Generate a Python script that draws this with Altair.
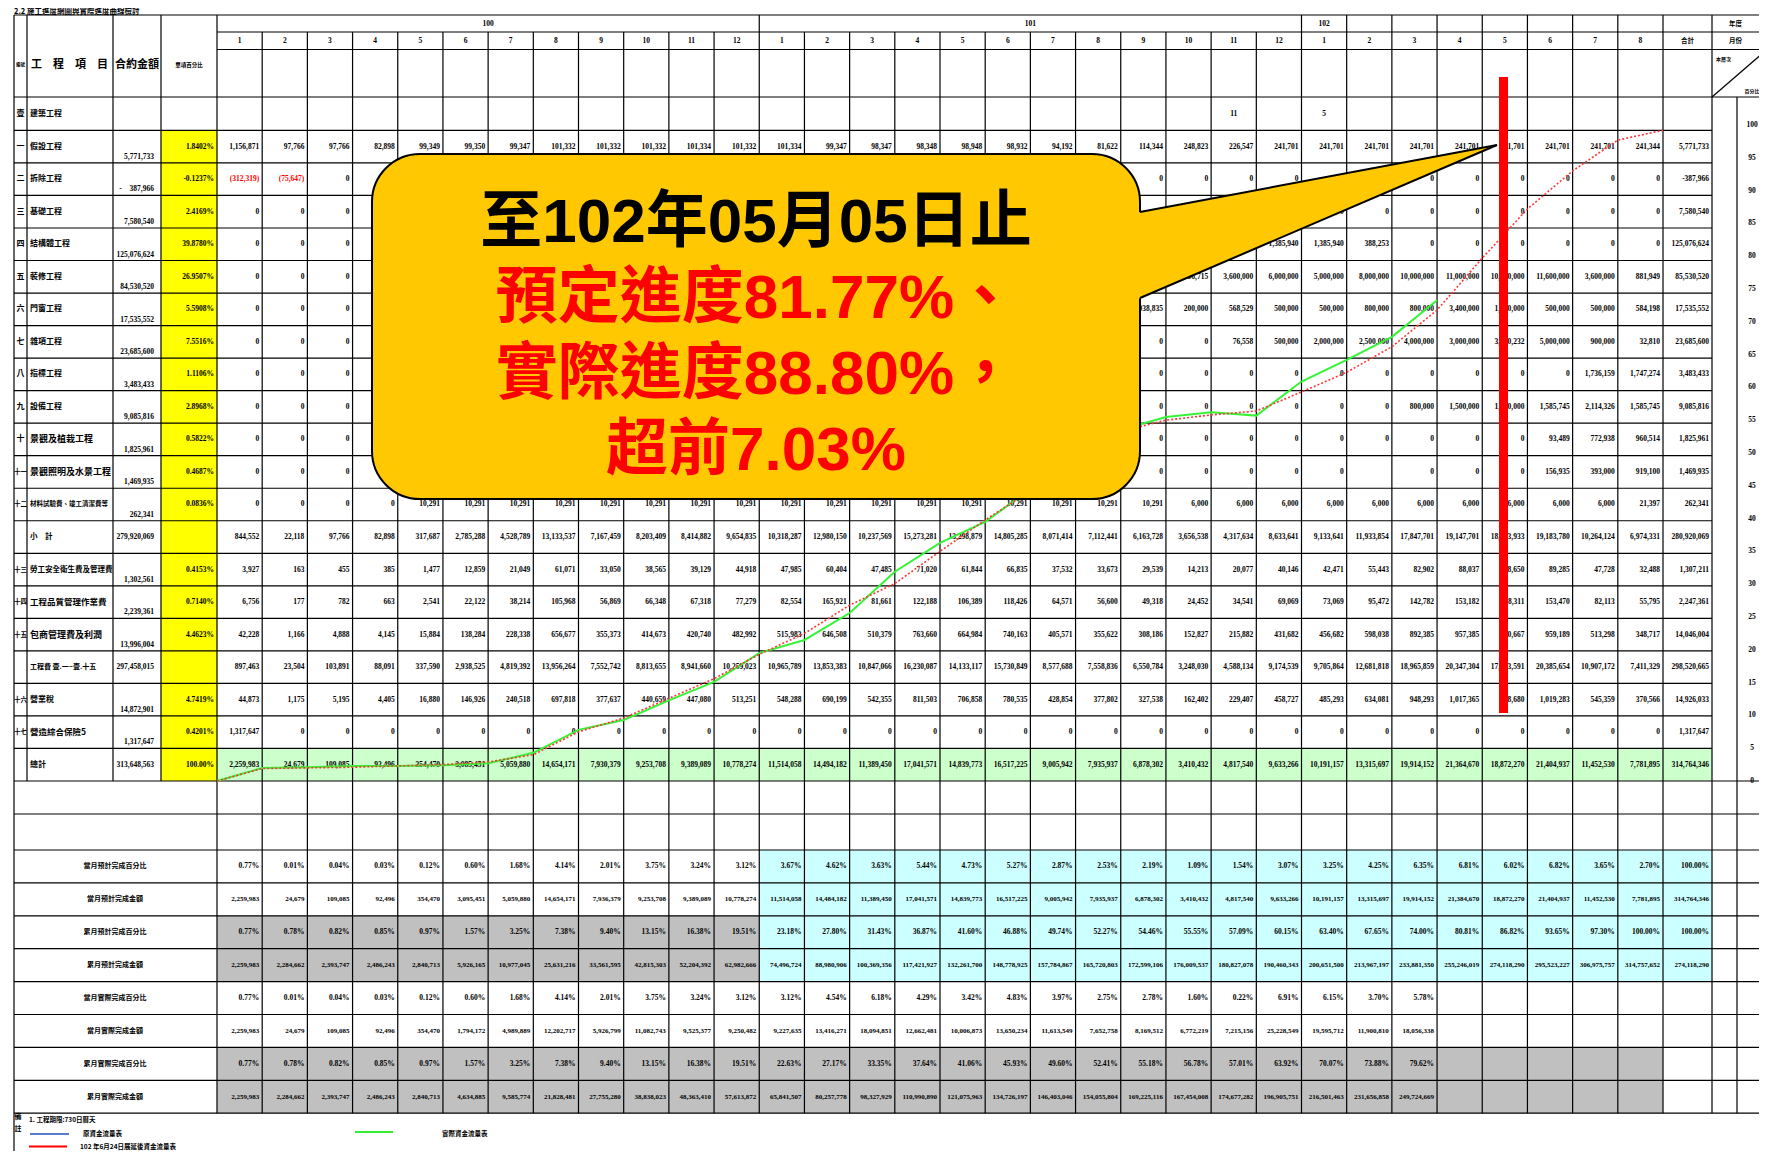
import altair as alt
import pandas as pd

# ============================ DATA ============================
TITLE = "2.2 施工進度網圖與實際進度曲線檢討"
YEAR_LABELS = ["100", "101", "102"]
MONTH_LABELS = [str(m) for m in range(1, 13)] * 2 + [str(m) for m in range(1, 9)]

ITEM_NO = ["一", "二", "三", "四", "五", "六", "七", "八", "九", "十", "十一", "十二", "",
           "十三", "十四", "十五", "", "十六", "十七", ""]
ITEM_NAME = ["假設工程", "拆除工程", "基礎工程", "結構體工程", "裝修工程", "門窗工程", "雜項工程",
             "指標工程", "設備工程", "景觀及植栽工程", "景觀照明及水景工程", "材料試驗費、竣工清潔費等",
             "小　計", "勞工安全衛生費及管理費", "工程品質管理作業費", "包商管理費及利潤",
             "工程費 壹.一~壹.十五", "營業稅", "營造綜合保險5", "總計"]
CONTRACT = ["5,771,733", "-　387,966", "7,580,540", "125,076,624", "84,530,520", "17,535,552",
            "23,685,600", "3,483,433", "9,085,816", "1,825,961", "1,469,935", "262,341",
            "279,920,069", "1,302,561", "2,239,361", "13,996,004", "297,458,015", "14,872,901",
            "1,317,647", "313,648,563"]
SHARE = ["1.8402%", "-0.1237%", "2.4169%", "39.8780%", "26.9507%", "5.5908%", "7.5516%",
         "1.1106%", "2.8968%", "0.5822%", "0.4687%", "0.0836%", "", "0.4153%", "0.7140%",
         "4.4623%", "", "4.7419%", "0.4201%", "100.00%"]

E = ""  # cell hidden under the call-out
R01 = ["1,156,871", "97,766", "97,766", "82,898", "99,349", "99,350", "99,347", "101,332", "101,332",
       "101,332", "101,334", "101,332", "101,334", "99,347", "98,347", "98,348", "98,948", "98,932",
       "94,192", "81,622", "114,344", "248,823", "226,547", "241,701", "241,701", "241,701",
       "241,701", "241,701", "241,701", "241,701", "241,701", "241,344", "5,771,733"]
R02 = ["(312,319)", "(75,647)", "0"] + [E] * 17 + ["0"] * 12 + ["-387,966"]
R03 = ["0", "0", "0"] + [E] * 17 + ["0"] * 12 + ["7,580,540"]
R04 = ["0", "0", "0"] + [E] * 17 + ["1,385,940", "1,385,940", "1,385,940", "1,385,940",
                                    "1,385,940", "388,253", "0", "0", "0", "0", "0", "0",
                                    "125,076,624"]
R05 = ["0", "0", "0"] + [E] * 17 + ["2,000,000", "2,386,715", "3,600,000", "6,000,000",
                                    "5,000,000", "8,000,000", "10,000,000", "11,000,000",
                                    "10,800,000", "11,600,000", "3,600,000", "881,949",
                                    "85,530,520"]
R06 = ["0", "0", "0"] + [E] * 17 + ["1,038,835", "200,000", "568,529", "500,000", "500,000",
                                    "800,000", "800,000", "3,400,000", "1,200,000", "500,000",
                                    "500,000", "584,198", "17,535,552"]
R07 = ["0", "0", "0"] + [E] * 17 + ["0", "0", "76,558", "500,000", "2,000,000", "2,500,000",
                                    "4,000,000", "3,000,000", "3,300,232", "5,000,000",
                                    "900,000", "32,810", "23,685,600"]
R08 = ["0", "0", "0"] + [E] * 17 + ["0"] * 10 + ["1,736,159", "1,747,274", "3,483,433"]
R09 = ["0", "0", "0"] + [E] * 17 + ["0", "0", "0", "0", "0", "0", "800,000", "1,500,000",
                                    "1,500,000", "1,585,745", "2,114,326", "1,585,745",
                                    "9,085,816"]
R10 = ["0", "0", "0"] + [E] * 17 + ["0"] * 9 + ["93,489", "772,938", "960,514", "1,825,961"]
R11 = ["0", "0", "0"] + [E] * 17 + ["0", "0", "0", "0", "0", "", "0", "0", "0",
                                    "156,935", "393,000", "919,100", "1,469,935"]
R12 = ["0", "0", "0", "0"] + ["10,291"] * 17 + ["6,000"] * 10 + ["21,397", "262,341"]
R13 = ["844,552", "22,118", "97,766", "82,898", "317,687", "2,785,288", "4,528,789", "13,133,537",
       "7,167,459", "8,203,409", "8,414,882", "9,654,835", "10,318,287", "12,980,150",
       "10,237,569", "15,273,281", "13,298,879", "14,805,285", "8,071,414", "7,112,441",
       "6,163,728", "3,656,538", "4,317,634", "8,633,641", "9,133,641", "11,933,854",
       "17,847,701", "19,147,701", "18,963,933", "19,183,780", "10,264,124", "6,974,331",
       "280,920,069"]
R14 = ["3,927", "163", "455", "385", "1,477", "12,859", "21,049", "61,071", "33,050", "38,565",
       "39,129", "44,918", "47,985", "60,404", "47,485", "71,020", "61,844", "66,835", "37,532",
       "33,673", "29,539", "14,213", "20,077", "40,146", "42,471", "55,443", "82,902", "88,037",
       "78,650", "89,285", "47,728", "32,488", "1,307,211"]
R15 = ["6,756", "177", "782", "663", "2,541", "22,122", "38,214", "105,968", "56,869", "66,348",
       "67,318", "77,279", "82,554", "165,921", "81,661", "122,188", "106,389", "118,426",
       "64,571", "56,600", "49,318", "24,452", "34,541", "69,069", "73,069", "95,472", "142,782",
       "153,182", "138,311", "153,470", "82,113", "55,795", "2,247,361"]
R16 = ["42,228", "1,166", "4,888", "4,145", "15,884", "138,284", "228,338", "656,677", "355,373",
       "414,673", "420,740", "482,992", "515,983", "646,508", "510,379", "763,660", "664,984",
       "740,163", "405,571", "355,622", "308,186", "152,827", "215,882", "431,682", "456,682",
       "598,038", "892,385", "957,385", "860,667", "959,189", "513,298", "348,717", "14,046,004"]
R17 = ["897,463", "23,504", "103,891", "88,091", "337,590", "2,938,525", "4,819,392",
       "13,956,264", "7,552,742", "8,813,655", "8,941,660", "10,259,023", "10,965,789",
       "13,853,383", "10,847,066", "16,230,087", "14,133,117", "15,730,849", "8,577,688",
       "7,558,836", "6,550,784", "3,248,030", "4,588,134", "9,174,539", "9,705,864",
       "12,681,818", "18,965,859", "20,347,304", "17,973,591", "20,385,654", "10,907,172",
       "7,411,329", "298,520,665"]
R18 = ["44,873", "1,175", "5,195", "4,405", "16,880", "146,926", "240,518", "697,818", "377,637",
       "440,659", "447,080", "513,251", "548,288", "690,199", "542,355", "811,503", "706,858",
       "780,535", "428,854", "377,802", "327,538", "162,402", "229,407", "458,727", "485,293",
       "634,081", "948,293", "1,017,365", "898,680", "1,019,283", "545,359", "370,566",
       "14,926,033"]
R19 = ["1,317,647"] + ["0"] * 31 + ["1,317,647"]
R20 = ["2,259,983", "24,679", "109,085", "92,496", "354,470", "3,085,451", "5,059,880",
       "14,654,171", "7,930,379", "9,253,708", "9,389,089", "10,778,274", "11,514,058",
       "14,494,182", "11,389,450", "17,041,571", "14,839,773", "16,517,225", "9,005,942",
       "7,935,937", "6,878,302", "3,410,432", "4,817,540", "9,633,266", "10,191,157",
       "13,315,697", "19,914,152", "21,364,670", "18,872,270", "21,404,937", "11,452,530",
       "7,781,895", "314,764,346"]
MONTHLY = [R01, R02, R03, R04, R05, R06, R07, R08, R09, R10, R11, R12, R13, R14, R15, R16,
           R17, R18, R19, R20]

LOW_LABELS = ["當月預計完成百分比", "當月預計完成金額", "累月預計完成百分比", "累月預計完成金額",
              "當月實際完成百分比", "當月實際完成金額", "累月實際完成百分比", "累月實際完成金額"]
PLAN_PCT = ["0.77%", "0.01%", "0.04%", "0.03%", "0.12%", "0.60%", "1.68%", "4.14%", "2.01%",
            "3.75%", "3.24%", "3.12%", "3.67%", "4.62%", "3.63%", "5.44%", "4.73%", "5.27%",
            "2.87%", "2.53%", "2.19%", "1.09%", "1.54%", "3.07%", "3.25%", "4.25%", "6.35%",
            "6.81%", "6.02%", "6.82%", "3.65%", "2.70%", "100.00%"]
PLAN_AMT = ["2,259,983", "24,679", "109,085", "92,496", "354,470", "3,095,451", "5,059,880",
            "14,654,171", "7,936,379", "9,253,708", "9,389,089", "10,778,274", "11,514,058",
            "14,484,182", "11,389,450", "17,041,571", "14,839,773", "16,517,225", "9,005,942",
            "7,935,937", "6,878,302", "3,410,432", "4,817,540", "9,633,266", "10,191,157",
            "13,315,697", "19,914,152", "21,384,670", "18,872,270", "21,404,937", "11,452,530",
            "7,781,895", "314,764,346"]
PLAN_CUM_PCT = ["0.77%", "0.78%", "0.82%", "0.85%", "0.97%", "1.57%", "3.25%", "7.38%", "9.40%",
                "13.15%", "16.38%", "19.51%", "23.18%", "27.80%", "31.43%", "36.87%", "41.60%",
                "46.88%", "49.74%", "52.27%", "54.46%", "55.55%", "57.09%", "60.15%", "63.40%",
                "67.65%", "74.00%", "80.81%", "86.82%", "93.65%", "97.30%", "100.00%", "100.00%"]
PLAN_CUM_AMT = ["2,259,983", "2,284,662", "2,393,747", "2,486,243", "2,840,713", "5,926,165",
                "10,977,045", "25,631,216", "33,561,595", "42,815,303", "52,204,392",
                "62,982,666", "74,496,724", "88,980,906", "100,369,356", "117,421,927",
                "132,261,700", "148,778,925", "157,784,867", "165,720,803", "172,599,106",
                "176,009,537", "180,827,078", "190,460,343", "200,651,500", "213,967,197",
                "233,881,350", "255,246,019", "274,118,290", "295,523,227", "306,975,757",
                "314,757,652", "274,118,290"]
ACT_PCT = ["0.77%", "0.01%", "0.04%", "0.03%", "0.12%", "0.60%", "1.68%", "4.14%", "2.01%",
           "3.75%", "3.24%", "3.12%", "3.12%", "4.54%", "6.18%", "4.29%", "3.42%", "4.83%",
           "3.97%", "2.75%", "2.78%", "1.60%", "0.22%", "6.91%", "6.15%", "3.70%", "5.78%"]
ACT_AMT = ["2,259,983", "24,679", "109,085", "92,496", "354,470", "1,794,172", "4,989,889",
           "12,202,717", "5,926,799", "11,082,743", "9,525,377", "9,250,482", "9,227,635",
           "13,416,271", "18,094,851", "12,662,481", "10,006,873", "13,650,234", "11,613,549",
           "7,652,758", "8,169,512", "6,772,219", "7,215,156", "25,228,549", "19,595,712",
           "11,900,810", "18,056,338"]
ACT_CUM_PCT = ["0.77%", "0.78%", "0.82%", "0.85%", "0.97%", "1.57%", "3.25%", "7.38%", "9.40%",
               "13.15%", "16.38%", "19.51%", "22.63%", "27.17%", "33.35%", "37.64%", "41.06%",
               "45.93%", "49.60%", "52.41%", "55.18%", "56.78%", "57.01%", "63.92%", "70.07%",
               "73.88%", "79.62%"]
ACT_CUM_AMT = ["2,259,983", "2,284,662", "2,393,747", "2,486,243", "2,840,713", "4,634,885",
               "9,585,774", "21,828,481", "27,755,280", "38,838,023", "48,363,410", "57,613,872",
               "65,841,507", "80,257,778", "98,327,929", "110,990,890", "121,075,963",
               "134,726,197", "146,403,046", "154,055,804", "169,225,116", "167,454,008",
               "174,677,282", "196,905,751", "216,501,463", "231,656,858", "249,724,669"]
LOWER = [PLAN_PCT, PLAN_AMT, PLAN_CUM_PCT, PLAN_CUM_AMT, ACT_PCT, ACT_AMT, ACT_CUM_PCT,
         ACT_CUM_AMT]

# S-curves (value at the end of each month, 0 = start)
CURVE_MONTH = list(range(0, 33))
ACTUAL_CURVE = [0, 2.0, 2.1, 2.3, 2.3, 2.4, 2.7, 4.3, 7.8, 9.3, 12.3, 15.1, 19.5, 21.5, 25.6,
                31.9, 36.3, 39.5, 44.5, 49.0, 53.5, 55.5, 56.2, 55.7, 60.9, 64.2, 67.7, 73.3]
REVISED_CURVE = [0, 1.9, 2.0, 2.1, 2.3, 2.5, 2.9, 4.0, 7.5, 9.6, 12.6, 15.6, 19.3, 22.5, 26.8,
                 30.1, 35.0, 39.8, 44.2, 48.5, 53.3, 55.0, 55.8, 56.4, 59.3, 62.3, 66.2, 71.8,
                 79.7, 87.2, 93.0, 97.7, 99.2]
AXIS_VALUES = list(range(100, -1, -5))

CALLOUT = ["至102年05月05日止", "預定進度81.77%、", "實際進度88.80%，", "超前7.03%"]
CALLOUT_COLORS = ["#000000", "#FF0000", "#FF0000", "#FF0000"]
NOTE_LINES = ["1. 工程期限:730日曆天"]
LEGEND_TEXT = ["原資金流量表", "102 年6月24日展延後資金流量表", "實際資金流量表"]

# ============================ LAYOUT ============================
W, H = 1751, 1143
OFF = 8
XL, XC1, XC2, XC3, X0 = 14, 27, 113, 161, 217
XT, XE, XA, XR = 1663, 1712, 1737, 1767
CW = (XT - X0) / 32
EDGES = [X0 + i * CW for i in range(33)] + [XE]
T0, T1, T2, T3 = 15, 32, 49.5, 97
ROW0, RH = 130.4, 32.53
LT0, LROW0, LRH = 814, 850, 32.9
BOTTOM = LROW0 + 8 * LRH
PX_PER_PCT = 6.56
ZERO_Y = 781

PX = alt.Scale(domain=[OFF, OFF + W], nice=False, zero=False)
PY = alt.Scale(domain=[OFF, OFF + H], nice=False, zero=False, reverse=True)
IX = alt.Scale(domain=[(OFF - X0) / CW, (OFF + W - X0) / CW], nice=False, zero=False)
PS = alt.Scale(domain=[(ZERO_Y - (OFF + H)) / PX_PER_PCT, (ZERO_Y - OFF) / PX_PER_PCT],
               nice=False, zero=False)


def rowy(k):
    return ROW0 + k * RH


# ---------------- fills ----------------
rects = [
    dict(x=XC3, x2=X0, y=rowy(0), y2=rowy(20), c="#FFFF00"),
    dict(x=X0, x2=XE, y=rowy(19), y2=rowy(20), c="#CCFFCC"),
    dict(x=EDGES[12], x2=XE, y=LROW0, y2=LROW0 + 4 * LRH, c="#CCFFFF"),
    dict(x=X0, x2=EDGES[12], y=LROW0 + 2 * LRH, y2=LROW0 + 4 * LRH, c="#C0C0C0"),
    dict(x=X0, x2=XT, y=LROW0 + 6 * LRH, y2=BOTTOM, c="#C0C0C0"),
]
fill_layer = alt.Chart(pd.DataFrame(rects)).mark_rect(strokeWidth=0).encode(
    x=alt.X("x:Q", scale=PX, axis=None), x2="x2:Q",
    y=alt.Y("y:Q", scale=PY, axis=None), y2="y2:Q",
    color=alt.Color("c:N", scale=None, legend=None))

# ---------------- grid ----------------
segs = []
def hl(y, xa, xb):
    segs.append(dict(x=xa, x2=xb, y=y, y2=y))
def vl(x, ya, yb):
    segs.append(dict(x=x, x2=x, y=ya, y2=yb))

hl(T0, XL, XR); hl(T1, X0, XR); hl(T2, X0, XR); hl(T3, XL, XR)
for k in range(20):
    hl(rowy(k), XL, XE)
hl(rowy(20), XL, XR)
hl(LT0, XL, XR)
for j in range(9):
    hl(LROW0 + j * LRH, XL, XR)
vl(XL, T0, 1159)
for x in (XC1, XC2, XC3):
    vl(x, T0, rowy(20))
vl(X0, T0, BOTTOM)
for i in range(1, 32):
    top = T0 if (i in (12, 24) or i > 24) else T1
    vl(EDGES[i], top, BOTTOM)
vl(XT, T0, BOTTOM); vl(XE, T0, BOTTOM); vl(XA, T3, BOTTOM)
segs.append(dict(x=XE, x2=XR, y=T3, y2=T2))
grid_layer = alt.Chart(pd.DataFrame(segs)).mark_rule(color="#000000", strokeWidth=1.2).encode(
    x=alt.X("x:Q", scale=PX, axis=None), x2="x2:Q",
    y=alt.Y("y:Q", scale=PY, axis=None), y2="y2:Q")

# ---------------- texts ----------------
texts = []
def T(g, x, y, t, size, color="#000000"):
    if t != "":
        texts.append(dict(g=g, x=x, y=y, t=t, size=size, color=color))

T("cl", XL, 11.5, TITLE, 7.5)
T("cc", 20.5, 65, "編號", 4.5)
T("cl", 31, 65, "工　程　項　目", 11)
T("cl", 115, 65, "合約金額", 11)
T("cc", 189, 65, "單項百分比", 5.5)
for yi, lab in enumerate(YEAR_LABELS):
    if yi < 2:
        xc = (EDGES[12 * yi] + EDGES[12 * yi + 12]) / 2
    else:
        xc = (EDGES[24] + EDGES[25]) / 2
    T("nc", xc, 24, lab, 7.5)
for i, m in enumerate(MONTH_LABELS):
    T("nc", (EDGES[i] + EDGES[i + 1]) / 2, 41, m, 7.5)
T("cc", (XT + XE) / 2, 41, "合計", 6.5)
T("cc", (XE + XR) / 2 - 4, 23.5, "年度", 6.5)
T("cc", (XE + XR) / 2 - 4, 40.5, "月份", 6.5)
T("cl", XE + 4, 59, "本層次", 5)
T("cc", 1752, 91, "百分比", 5)
# 壹 row
T("cc", 20.5, (T3 + ROW0) / 2, "壹", 8)
T("cl", 30, (T3 + ROW0) / 2, "建築工程", 8)
T("nc", (EDGES[22] + EDGES[23]) / 2, (T3 + ROW0) / 2, "11", 7.5)
T("nc", (EDGES[24] + EDGES[25]) / 2, (T3 + ROW0) / 2, "5", 7.5)

LABEL_SIZE = [8, 8, 8, 8, 8, 8, 8, 8, 8, 9, 9, 6.5, 7.5, 7.5, 8.5, 9, 7, 8, 8.5, 8]
SUBTOTAL = {12, 16, 19}
for k in range(20):
    yc = rowy(k) + RH / 2
    T("cc", 20.5, yc, ITEM_NO[k], 6.5 if len(ITEM_NO[k]) > 1 else 8)
    T("cl", 30, yc, ITEM_NAME[k], LABEL_SIZE[k])
    T("nr", 154, yc if k in SUBTOTAL else rowy(k + 1) - 6, CONTRACT[k], 7.5)
    T("nr", X0 - 3, yc, SHARE[k], 7.5)
    for i, v in enumerate(MONTHLY[k]):
        col = "#FF0000" if v.startswith("(") else "#000000"
        T("nr", EDGES[i + 1] - 3, yc, v, 7.5, col)

for j in range(8):
    yc = LROW0 + (j + 0.5) * LRH
    T("cc", 115, yc, LOW_LABELS[j], 7)
    for i, v in enumerate(LOWER[j]):
        T("nr", EDGES[i + 1] - 3, yc, v, 7.5 if v.endswith("%") else 7)

# notes
T("cc", 18, 1117, "備", 7)
T("cc", 18, 1129, "註", 7)
T("cl", 29, 1120, NOTE_LINES[0], 6.5)
T("cl", 83, 1134, LEGEND_TEXT[0], 6.5)
T("cl", 80, 1146.5, LEGEND_TEXT[1], 6.5)
T("cl", 442, 1134, LEGEND_TEXT[2], 6.5)

STYLES = {
    "nr": dict(align="right", font="Liberation Serif", fontWeight="bold"),
    "nc": dict(align="center", font="Liberation Serif", fontWeight="bold"),
    "cl": dict(align="left", font="Noto Sans CJK TC", fontWeight="bold"),
    "cc": dict(align="center", font="Noto Sans CJK TC", fontWeight="bold"),
}
tdf = pd.DataFrame(texts)
text_layers = []
for g, st in STYLES.items():
    sub = tdf[tdf.g == g]
    text_layers.append(alt.Chart(sub).mark_text(baseline="middle", **st).encode(
        x=alt.X("x:Q", scale=PX, axis=None), y=alt.Y("y:Q", scale=PY, axis=None),
        text="t:N", size=alt.Size("size:Q", scale=None, legend=None),
        color=alt.Color("color:N", scale=None, legend=None)))

# legend sample lines in the notes
leg = pd.DataFrame([
    dict(x=30, x2=69, y=1134, c="#5B7BCF"),
    dict(x=29, x2=67, y=1146.5, c="#FF0000"),
    dict(x=355, x2=393, y=1132, c="#33EE33"),
])
legend_layer = alt.Chart(leg).mark_rule(strokeWidth=2).encode(
    x=alt.X("x:Q", scale=PX, axis=None), x2="x2:Q",
    y=alt.Y("y:Q", scale=PY, axis=None),
    color=alt.Color("c:N", scale=None, legend=None))

base_group = alt.layer(fill_layer, grid_layer, *text_layers, legend_layer)

# ---------------- curves (month index vs percent) ----------------
act_df = pd.DataFrame(dict(m=CURVE_MONTH[:len(ACTUAL_CURVE)], p=ACTUAL_CURVE))
rev_df = pd.DataFrame(dict(m=CURVE_MONTH[:len(REVISED_CURVE)], p=REVISED_CURVE))
green = alt.Chart(act_df).mark_line(color="#36F336", strokeWidth=2).encode(
    x=alt.X("m:Q", scale=IX, axis=None), y=alt.Y("p:Q", scale=PS, axis=None))
red = alt.Chart(rev_df).mark_line(color="#FF3535", strokeWidth=1.6, strokeDash=[2, 2]).encode(
    x=alt.X("m:Q", scale=IX, axis=None), y=alt.Y("p:Q", scale=PS, axis=None))
ax_df = pd.DataFrame(dict(m=[(1752 - X0) / CW] * len(AXIS_VALUES), p=AXIS_VALUES,
                          t=[str(v) for v in AXIS_VALUES]))
axis_text = alt.Chart(ax_df).mark_text(font="Liberation Serif", fontWeight="bold", fontSize=7.5,
                                        baseline="middle", align="center").encode(
    x=alt.X("m:Q", scale=IX, axis=None), y=alt.Y("p:Q", scale=PS, axis=None), text="t:N")
curve_group = alt.layer(green, red, axis_text)

# ---------------- annotation: red bar + call-out ----------------
bar = alt.Chart(pd.DataFrame([dict(x=1499, x2=1508, y=77, y2=713)])).mark_rect(
    color="#FF0000").encode(x=alt.X("x:Q", scale=PX, axis=None), x2="x2:Q",
                            y=alt.Y("y:Q", scale=PY, axis=None), y2="y2:Q")
BX0, BX1, BY0, BY1 = 372, 1140, 154, 499
TIP = (1497, 145)
UP0, LO0 = 212, 298
bubble = alt.Chart(pd.DataFrame([dict(x=BX0, x2=BX1, y=BY0, y2=BY1)])).mark_rect(
    color="#FFC800", stroke="#000000", strokeWidth=2, cornerRadius=48).encode(
    x=alt.X("x:Q", scale=PX, axis=None), x2="x2:Q",
    y=alt.Y("y:Q", scale=PY, axis=None), y2="y2:Q")
su = (TIP[1] - UP0) / (TIP[0] - BX1)
sl = (TIP[1] - LO0) / (TIP[0] - BX1)
tri = pd.DataFrame([dict(x=BX1 - 12, y=UP0 - 12 * su, y2=LO0 - 12 * sl),
                    dict(x=TIP[0], y=TIP[1], y2=TIP[1])])
pointer = alt.Chart(tri).mark_area(color="#FFC800", opacity=1).encode(
    x=alt.X("x:Q", scale=PX, axis=None), y=alt.Y("y:Q", scale=PY, axis=None), y2="y2:Q")
edges = pd.DataFrame([dict(x=BX1, y=UP0, x2=TIP[0], y2=TIP[1]),
                      dict(x=BX1, y=LO0, x2=TIP[0], y2=TIP[1])])
pointer_edges = alt.Chart(edges).mark_rule(color="#000000", strokeWidth=2).encode(
    x=alt.X("x:Q", scale=PX, axis=None), x2="x2:Q",
    y=alt.Y("y:Q", scale=PY, axis=None), y2="y2:Q")
cdf = pd.DataFrame(dict(x=[(BX0 + BX1) / 2] * 4, y=[223, 299, 375, 451], t=CALLOUT,
                        c=CALLOUT_COLORS))
callout_text = alt.Chart(cdf).mark_text(font="Liberation Sans, Noto Sans CJK TC",
                                        fontWeight="bold", fontSize=62, baseline="middle",
                                        align="center").encode(
    x=alt.X("x:Q", scale=PX, axis=None), y=alt.Y("y:Q", scale=PY, axis=None), text="t:N",
    color=alt.Color("c:N", scale=None, legend=None))
top_group = alt.layer(bar, bubble, pointer, pointer_edges, callout_text)

chart = alt.layer(base_group, curve_group, top_group).resolve_scale(
    x="independent", y="independent").properties(
    width=W, height=H, padding=0, autosize="none", background="#FFFFFF").configure_view(
    stroke=None)

chart.save("out.html", embed_options={"renderer": "svg", "actions": False})
